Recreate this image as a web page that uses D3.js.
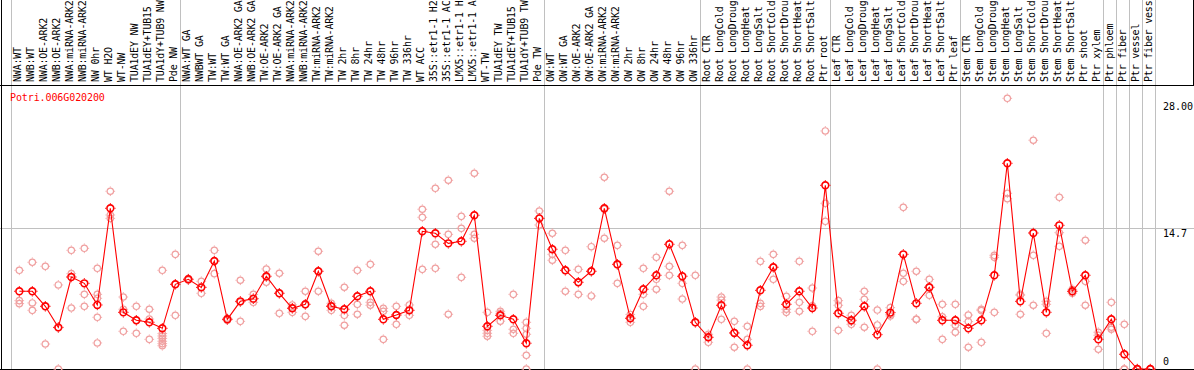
<!DOCTYPE html>
<html>
<head>
<meta charset="utf-8">
<script src="https://cdn.jsdelivr.net/npm/d3@7"></script>
<style>
html,body{margin:0;padding:0;background:#fff;overflow:hidden;}
svg{display:block;}
text{font-family:"DejaVu Sans Mono",monospace;font-size:10px;}
</style>
</head>
<body>
<svg id="chart" width="1194" height="370"></svg>
<script>
const title = "Potri.006G020200";
const categories = [
"NWA:WT","NWB:WT","NWA:OE-ARK2","NWB:OE-ARK2","NWA:miRNA-ARK2","NWB:miRNA-ARK2","NW 0hr","WT H2O","WT-NW","TUA1dEY NW","TUA1dEY+TUB15 NW","TUA1dY+TUB9 NW","Pde NW",
"NWA:WT GA","NWBWT GA","TW:WT","TW:WT GA","NWA:OE-ARK2 GA","NWB:OE-ARK2 GA","TW:OE-ARK2","TW:OE-ARK2 GA","NWA:miRNA-ARK2","NWB:miRNA-ARK2","TW:miRNA-ARK2","TW:miRNA-ARK2","TW 2hr","TW 8hr","TW 24hr","TW 48hr","TW 96hr","TW 336hr","WT ACC","35S::etr1-1 H2O","35S::etr1-1 ACC","LMX5::etr1-1 H2O","LMX5::etr1-1 ACC","WT-TW","TUA1dEY TW","TUA1dEY+TUB15 TW","TUA1dY+TUB9 TW","Pde TW",
"OW:WT","OW:WT GA","OW:OE-ARK2","OW:OE-ARK2 GA","OW:miRNA-ARK2","OW:miRNA-ARK2","OW 2hr","OW 8hr","OW 24hr","OW 48hr","OW 96hr","OW 336hr",
"Root CTR","Root LongCold","Root LongDrought","Root LongHeat","Root LongSalt","Root ShortCold","Root ShortDrought","Root ShortHeat","Root ShortSalt","Ptr root",
"Leaf CTR","Leaf LongCold","Leaf LongDrought","Leaf LongHeat","Leaf LongSalt","Leaf ShortCold","Leaf ShortDrought","Leaf ShortHeat","Leaf ShortSalt","Ptr leaf",
"Stem CTR","Stem LongCold","Stem LongDrought","Stem LongHeat","Stem LongSalt","Stem ShortCold","Stem ShortDrought","Stem ShortHeat","Stem ShortSalt","Ptr shoot",
"Ptr xylem","Ptr phloem","Ptr fiber","Ptr vessel","Ptr fiber vessel"
];
const maxLabelChars = 14;
const means = [
8.12,8.12,6.55,4.35,9.61,8.95,6.69,16.79,5.92,5.09,4.88,4.25,8.85,
9.37,8.53,11.28,5.19,7.07,7.35,9.69,7.91,6.34,6.76,10.21,6.55,6.24,7.6,8.12,5.19,5.64,6.13,14.39,14.18,13.13,13.34,16.06,4.46,5.61,5.19,2.69,15.74,
12.51,10.31,9.06,10.21,16.79,10.94,5.3,8.33,9.79,13.03,9.69,4.88,
3.31,6.66,3.76,2.48,8.22,10.63,6.76,8.12,6.37,19.19,
5.82,5.09,6.55,3.59,5.89,11.98,6.86,8.54,5.09,5.09,
4.25,5.09,9.79,21.49,7.07,14.21,5.92,15.01,8.12,9.79,
3.1,5.19,1.54,0,0
];
const replicates = [
[10.31,7.14,6.83],[11.15,6.9,6.13],[10.73,6.55,2.61],[8.78,4.3,0],[12.4,9.96,6.37],[12.61,7.8,6.55],
[10.52,7.8,7.39,5.4,2.72],[18.57,16.09,15.74],[7.52,6.24,3.94],[6.55,5.09,3.73],[6.24,5.22,3.1],
[10.31,3.7,3.45,3.2,2.9,2.65,2.43],[11.98,8.85,5.61],
[9.45,9.37,9.3],[9.16,8.53,7.91],[12.4,11.28,9.96],[5.3,5.19,5.1],[9.27,7.0,4.98],[7.8,7.3,6.97],
[10.45,9.6,9.06],[10.0,7.91,5.82],[6.69,6.4,5.92],[8.12,6.7,5.5],[12.3,10.21,8.12],[6.86,6.6,6.13],
[8.54,5.61,4.57],[10.31,6.76,5.72],[10.94,6.97,6.66],[6.34,6.03,3.1],[6.55,5.64,4.67],[6.69,6.13,5.61],
[16.69,15.85,10.41],[18.88,13.03,10.52],[19.72,14.07,5.72],[15.95,14.7,9.58],[20.45,14.07,13.66],
[5.92,4.04,3.73,3.42],[6.03,5.82,5.0],[7.8,4.15,3.73],[4.88,4.25,3.63,1.43,0],[16.51,15.74,15.05],
[14.18,11.98,11.36],[12.4,10.31,8.12],[10.41,9.06,7.8],[12.78,10.2,7.63],[20.03,16.7,13.66],[12.92,10.9,8.95],
[5.7,5.3,4.88],[10.52,7.8,6.55],[11.67,9.37,8.33],[18.57,10.73,9.79],[12.92,8.95,7.31],[9.79,4.85,0],
[3.63,3.3,2.79],[7.52,7.2,5.19],[4.98,3.8,2.27],[4.46,3.1,0],[11.25,6.86,6.55],[11.98,10.63,9.37],
[7.6,6.24,5.92],[11.25,6.97,6.03],[8.46,6.6,3.94],[24.87,17.31,15.43],
[7.14,6.66,4.04],[5.61,5.0,4.67],[8.12,7.28,4.36],[6.16,4.6,0],[6.41,5.7,5.54],[16.89,10.0,9.16],
[10.21,5.2,5.19],[9.37,8.5,7.7],[6.76,5.46,3.1],[6.76,4.57,3.84],
[5.64,4.95,2.27],[6.24,6.1,2.79],[11.88,11.67,5.92],[28.28,18.36,17.79],[7.8,7.7,5.72],[23.9,11.88,6.66],
[7.07,6.76,3.73],[17.94,14.24,12.82],[8.33,8.1,7.91],[13.45,9.16,6.66],
[3.84,3.52,2.06],[6.97,4.36,4.15],[4.67,0,0],[0,0,0],[0,0,0]
];
// group boundaries (index of first column of each group; last = end)
const separators = [0,13,41,53,63,73,84,85,86,87,88];
const yTickValues = [28, 14.7, 0];
const yTickLabels = ["28.00", "14.7", "0"];
const yMax = 29.4;

const svg = d3.select("#chart");
const W = 1194, H = 370;
const headerBottom = 86;

const xBand = d3.scaleBand().domain(d3.range(categories.length)).range([11, 1155]).paddingInner(0).paddingOuter(0);
const bw = xBand.bandwidth();
const px = i => xBand(i) + bw * 0.64;
const y = d3.scaleLinear().domain([0, yMax]).range([369, 87.6]);
const boundX = i => i >= categories.length ? xBand.range()[1] : xBand(i);

// grid lines
const grid = svg.append("g").attr("shape-rendering", "crispEdges");
grid.selectAll("line.v").data(separators).join("line")
  .attr("x1", d => Math.round(boundX(d)) + 0.5).attr("x2", d => Math.round(boundX(d)) + 0.5)
  .attr("y1", 0).attr("y2", H)
  .attr("stroke", "#c0c0c0").attr("stroke-width", 1);
grid.append("line")
  .attr("x1", 0).attr("x2", W)
  .attr("y1", Math.round(y(14.7)) + 0.5).attr("y2", Math.round(y(14.7)) + 0.5)
  .attr("stroke", "#c0c0c0");

// borders
const border = svg.append("g").attr("shape-rendering", "crispEdges").attr("stroke", "#000");
border.append("line").attr("x1", 1.5).attr("x2", 1.5).attr("y1", 0).attr("y2", H);
border.append("line").attr("x1", 0).attr("x2", W).attr("y1", headerBottom - 0.5).attr("y2", headerBottom - 0.5);
border.append("line").attr("x1", W - 0.5).attr("x2", W - 0.5).attr("y1", 0).attr("y2", headerBottom);
border.append("line").attr("x1", 0).attr("x2", W).attr("y1", H - 0.5).attr("y2", H - 0.5);

// category labels (rotated, shortened to the header height as in the original)
svg.append("g").selectAll("text").data(categories).join("text")
  .attr("transform", (d, i) => `translate(${px(i) + 2},82) rotate(-90)`)
  .attr("text-anchor", "start")
  .attr("letter-spacing", "-0.2px")
  .attr("fill", "#000")
  .text(d => d.length > maxLabelChars ? d.slice(0, maxLabelChars).trimEnd() : d);

// title
svg.append("text").attr("x", 10).attr("y", 101).attr("fill", "#ff0000").attr("letter-spacing", "-0.1px").text(title);

// y tick labels on the right
svg.append("g").selectAll("text").data(yTickValues).join("text")
  .attr("x", 1163)
  .attr("y", (d, i) => d === 0 ? y(d) - 4 : y(d) + 8.5)
  .attr("fill", "#000")
  .text((d, i) => yTickLabels[i]);

// marker helper
function marker(g, r, color, sw) {
  g.append("circle").attr("r", r).attr("fill", "none").attr("stroke", color).attr("stroke-width", sw);
  const t = r + sw / 2;
  g.append("path")
    .attr("d", `M0,${-t}V${-t-1}M0,${t}V${t+1}M${-t},0H${-t-1}M${t},0H${t+1}`)
    .attr("stroke", color).attr("stroke-width", 1);
}

// replicates
const repPts = [];
replicates.forEach((arr, i) => arr.forEach(v => repPts.push({i, v})));
svg.append("g").selectAll("g").data(repPts).join("g")
  .attr("transform", d => `translate(${px(d.i)},${y(d.v)})`)
  .each(function() { marker(d3.select(this), 3.2, "#f0a0a0", 1.2); });

// mean line
const line = d3.line().x((d, i) => px(i)).y(d => y(d));
svg.append("path").datum(means).attr("d", line)
  .attr("fill", "none").attr("stroke", "#ff0000").attr("stroke-width", 1.1);

// mean markers
svg.append("g").selectAll("g").data(means).join("g")
  .attr("transform", (d, i) => `translate(${px(i)},${y(d)})`)
  .each(function() { marker(d3.select(this), 3.4, "#ff0000", 1.6); });
</script>
</body>
</html>
